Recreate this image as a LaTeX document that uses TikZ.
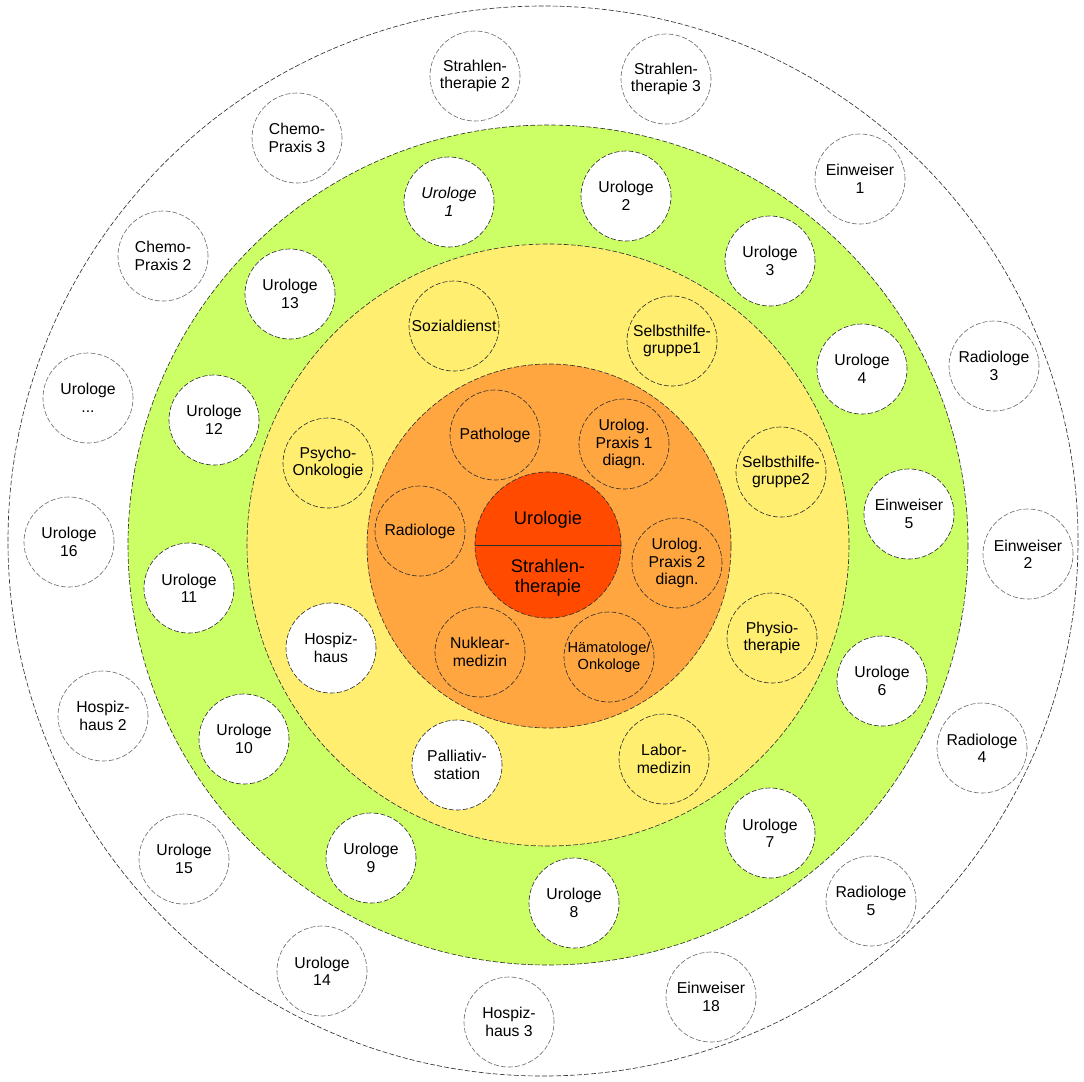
\documentclass[tikz,border=0pt]{standalone}
\usepackage{fontspec}
\setmainfont{Liberation Sans}

\definecolor{ringgreen}{HTML}{CCFF66}
\definecolor{ringyellow}{HTML}{FFEE70}
\definecolor{ringorange}{HTML}{FFA640}
\definecolor{corered}{HTML}{FF4A00}
\definecolor{edgegray}{HTML}{303030}

\tikzset{
  ring/.style={draw=edgegray, line width=0.45pt, dash pattern=on 3.5pt off 1.5pt},
  member/.style={circle, ring, fill=white, minimum size=2.25cm, inner sep=0pt,
    align=center, font=\fontsize{11.2}{12.4}\selectfont},
  outer/.style={member, draw=edgegray!70},
  inyellow/.style={member, fill=ringyellow},
  inorange/.style={member, fill=ringorange},
  core/.style={circle, ring, fill=corered, minimum size=3.65cm, inner sep=0pt},
  coretext/.style={align=center, inner sep=0pt, font=\fontsize{13}{14.5}\selectfont}
}

\begin{document}
\begin{tikzpicture}[x=0.025cm, y=-0.025cm]
\useasboundingbox (0,0) rectangle (1084,1081);

% rings
\draw[ring] (543,541) circle[radius=535];
\draw[ring, fill=ringgreen] (548,545) circle[radius=420];
\draw[ring, fill=ringyellow] (548,545) circle[radius=301];
\draw[ring, fill=ringorange] (549,546) circle[radius=182];

% outer ring
\foreach \x/\y/\name/\txt in {
  475/76/strahl2/{Strahlen-\\therapie 2},
  666/79/strahl3/{Strahlen-\\therapie 3},
  297/138/chemo3/{Chemo-\\Praxis 3},
  163/256/chemo2/{Chemo-\\Praxis 2},
  860/179/einw1/{Einweiser\\1},
  994/366/radio3/{Radiologe\\3},
  88/398/urodots/{Urologe\\...},
  69/542/uro16/{Urologe\\16},
  1028/554/einw2/{Einweiser\\2},
  103/716/hospiz2/{Hospiz-\\haus 2},
  982/748/radio4/{Radiologe\\4},
  184/859/uro15/{Urologe\\15},
  871/901/radio5/{Radiologe\\5},
  322/971/uro14/{Urologe\\14},
  711/997/einw18/{Einweiser\\18},
  509/1022/hospiz3/{Hospiz-\\haus 3}}
  \node[outer] (\name) at (\x,\y) {\txt};

% green ring
\node[member, font=\fontsize{11.2}{12.4}\selectfont\itshape] (uro1) at (449,202) {Urologe\\1};
\foreach \x/\y/\name/\txt in {
  626/196/uro2/{Urologe\\2},
  770/261/uro3/{Urologe\\3},
  862/369/uro4/{Urologe\\4},
  909/514/einw5/{Einweiser\\5},
  882/681/uro6/{Urologe\\6},
  770/833/uro7/{Urologe\\7},
  574/903/uro8/{Urologe\\8},
  371/858/uro9/{Urologe\\9},
  244/739/uro10/{Urologe\\10},
  189/588/uro11/{Urologe\\11},
  214/420/uro12/{Urologe\\12},
  290/294/uro13/{Urologe\\13}}
  \node[member] (\name) at (\x,\y) {\txt};

% yellow ring
\foreach \x/\y/\name/\txt in {
  454/326/sozial/{Sozialdienst},
  672/341/shg1/{Selbsthilfe-\\gruppe1},
  781/472/shg2/{Selbsthilfe-\\gruppe2},
  772/638/physio/{Physio-\\therapie},
  664/759/labor/{Labor-\\medizin},
  328/463/psycho/{Psycho-\\Onkologie}}
  \node[inyellow] (\name) at (\x,\y) {\txt};
\node[member] (hospiz) at (331,648) {Hospiz-\\haus};
\node[member] (palliativ) at (457,765) {Palliativ-\\station};

% orange ring
\foreach \x/\y/\name/\txt in {
  495/435/patho/{Pathologe},
  624/444/praxis1/{Urolog.\\Praxis 1\\diagn.},
  420/531/radio/{Radiologe},
  677/563/praxis2/{Urolog.\\Praxis 2\\diagn.},
  480/652/nuklear/{Nuklear-\\medizin}}
  \node[inorange] (\name) at (\x,\y) {\txt};
\node[inorange, font=\fontsize{10.4}{12}\selectfont] (haemato) at (609,657) {H\"amatologe/\\Onkologe};

% core
\node[core] (core) at (548,545) {};
\draw[edgegray, line width=0.5pt] (core.west) -- (core.east);
\node[coretext] (uro) at ([yshift=0.62cm]core.center) {Urologie};
\node[coretext] (strahl) at ([yshift=-0.82cm]core.center) {Strahlen-\\therapie};
\end{tikzpicture}
\end{document}
